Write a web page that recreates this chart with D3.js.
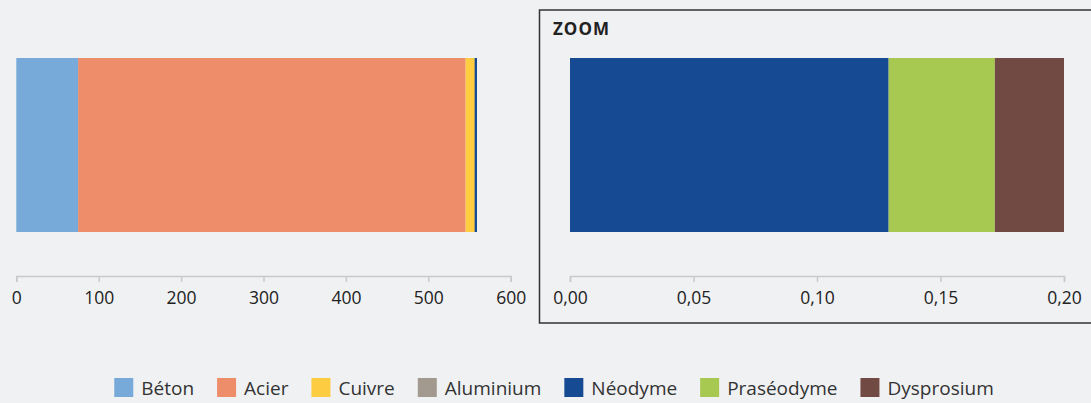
<!DOCTYPE html>
<html>
<head>
<meta charset="utf-8">
<script src="https://cdn.jsdelivr.net/npm/d3@7"></script>
<style>
  html, body { margin: 0; padding: 0; background: #f0f1f3; }
  svg { display: block; font-family: "Open Sans", Lato, sans-serif; }
</style>
</head>
<body>
<svg id="chart" width="1091" height="403"></svg>
<script>
// Materials per unit (t), stacked in this order
const materials = ["Béton", "Acier", "Cuivre", "Aluminium", "Néodyme", "Praséodyme", "Dysprosium"];
const colors = ["#77aad9", "#ee8d6a", "#fecc40", "#a39a8f", "#164b94", "#a7c851", "#724a44"];
const totalValues = [75, 470, 11, 0, 0.129, 0.043, 0.028];
// Rare-earth detail shown in the zoom panel
const zoomMaterials = ["Néodyme", "Praséodyme", "Dysprosium"];
const zoomValues = [0.129, 0.043, 0.028];
const mainTicks = [0, 100, 200, 300, 400, 500, 600];
const zoomTicks = [0, 0.05, 0.10, 0.15, 0.20];

const svg = d3.select("#chart");
const color = d3.scaleOrdinal().domain(materials).range(colors);
const fr = d3.formatLocale({decimal: ",", thousands: " ", grouping: [3], currency: ["", " €"]});

const barTop = 58, barBottom = 232, axisY = 276;
const y = d3.scaleBand().domain(["total"]).range([barTop, barBottom]).padding(0);

function stackSegments(names, values) {
  let acc = 0;
  return names.map((n, i) => {
    const s = {name: n, x0: acc, x1: acc + values[i], v: values[i]};
    acc += values[i];
    return s;
  });
}

function drawAxis(g, x, ticks, fmt) {
  const axis = d3.axisBottom(x).tickValues(ticks).tickSize(6).tickSizeOuter(6).tickPadding(10).tickFormat(fmt);
  const a = g.append("g").attr("transform", `translate(0,${axisY})`).call(axis);
  a.select(".domain").attr("stroke", "#c8c9cc").attr("stroke-width", 1.5);
  a.selectAll(".tick line").attr("stroke", "#c8c9cc").attr("stroke-width", 1.5);
  a.selectAll(".tick text").attr("fill", "#222").attr("font-size", 17.5)
    .attr("font-family", "'Open Sans', Lato, sans-serif");
}

// Main stacked bar
const xMain = d3.scaleLinear().domain([0, 600]).range([16.3, 510.7]);
const gMain = svg.append("g");
const mainSegs = stackSegments(materials, totalValues).filter(s => s.v > 0);
const stackEnd = Math.round(xMain(d3.sum(totalValues)));
// tiny tail segments are stretched to 2px past the stack end and drawn
// back-to-front, so the first of them stays visible
gMain.selectAll("rect").data(mainSegs.slice().reverse()).join("rect")
  .attr("x", d => xMain(d.x0))
  .attr("y", y("total"))
  .attr("width", d => {
    const w = xMain(d.x1) - xMain(d.x0);
    return w < 2 ? stackEnd + 2 - xMain(d.x0) : w;
  })
  .attr("height", y.bandwidth())
  .attr("fill", d => color(d.name));
drawAxis(gMain, xMain, mainTicks, d3.format("d"));

// Zoom panel
const gZoom = svg.append("g");
gZoom.append("rect")
  .attr("x", 539.5).attr("y", 10).attr("width", 600).attr("height", 313)
  .attr("fill", "none").attr("stroke", "#333").attr("stroke-width", 1.5);
gZoom.append("text").attr("x", 553).attr("y", 34.5)
  .attr("font-size", 17).attr("font-weight", "bold").attr("fill", "#222")
  .attr("letter-spacing", 1)
  .text("ZOOM");
const xZoom = d3.scaleLinear().domain([0, 0.2]).range([570, 1064]);
gZoom.selectAll("rect.seg").data(stackSegments(zoomMaterials, zoomValues)).join("rect")
  .attr("class", "seg")
  .attr("x", d => xZoom(d.x0))
  .attr("y", y("total"))
  .attr("width", d => xZoom(d.x1) - xZoom(d.x0))
  .attr("height", y.bandwidth())
  .attr("fill", d => color(d.name));
drawAxis(gZoom, xZoom, zoomTicks, fr.format(".2f"));

// Legend, centred below both panels
const legend = svg.append("g");
const items = legend.selectAll("g").data(materials).join("g");
items.append("rect").attr("width", 19).attr("height", 19).attr("y", 378)
  .attr("fill", d => color(d));
items.append("text").attr("x", 27).attr("y", 395).attr("font-size", 19)
  .attr("fill", "#333").text(d => d);
let cursor = 0;
const offsets = [];
items.each(function() {
  offsets.push(cursor);
  const w = d3.select(this).select("text").node().getComputedTextLength();
  cursor += 27 + w + 23;
});
const totalW = cursor - 23;
const startX = 554 - totalW / 2;
items.attr("transform", (d, i) => `translate(${startX + offsets[i]},0)`);
</script>
</body>
</html>
